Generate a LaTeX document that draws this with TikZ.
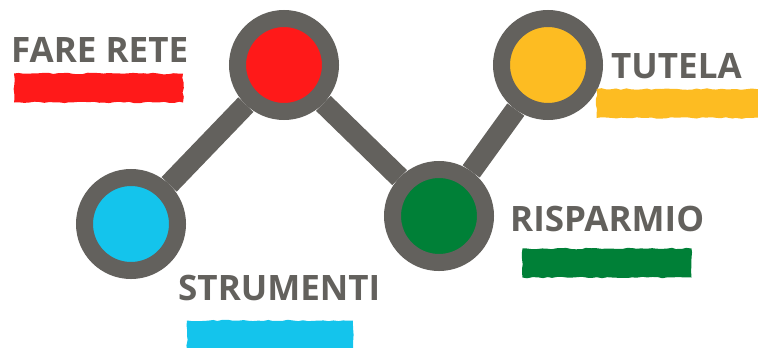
\documentclass[tikz,border=0pt]{standalone}
\usepackage{fontspec}
\setsansfont{Open Sans}
\usepackage{tikz}
\usetikzlibrary{decorations.pathmorphing}
\usepackage{xcolor}
\definecolor{netgrey}{RGB}{99,97,93}
\definecolor{netred}{RGB}{255,25,25}
\definecolor{netyellow}{RGB}{253,188,34}
\definecolor{netblue}{RGB}{20,196,236}
\definecolor{netgreen}{RGB}{0,128,55}
\tikzstyle{station} = [circle, minimum size=93pt, inner sep=0pt, line width=17pt, draw=netgrey]
\tikzstyle{link} = [line width=21pt, color=netgrey]
\tikzstyle{heading} = [font=\sffamily\bfseries\fontsize{35}{35}\selectfont, text=netgrey, inner sep=0pt, anchor=base west]
\tikzstyle{brush} = [rectangle, inner sep=0pt, minimum height=29pt, decorate, decoration={random steps, segment length=5pt, amplitude=0.8pt}]

\begin{document}
\begin{tikzpicture}[x=1pt, y=-1pt]
\pgfmathsetseed{7}
\useasboundingbox (0,0) rectangle (758,348);
% Stations
\node (strumenti) [station, fill=netblue] at (131,224) {};
\node (farerete) [station, fill=netred] at (284,65) {};
\node (risparmio) [station, fill=netgreen] at (439,216) {};
\node (tutela) [station, fill=netyellow] at (548,65) {};

% Links
\draw[link] (strumenti) -- (farerete);
\draw[link] (farerete) -- (risparmio);
\draw[link] (risparmio) -- (tutela);

% Labels
\node (fareretetext) [heading] at (11,62) {FARE RETE};
\node (tutelatext) [heading] at (611,78) {TUTELA};
\node (strumentitext) [heading] at (178,300) {STRUMENTI};
\node (risparmiotext) [heading] at (510,231) {RISPARMIO};

% Brush strokes
\node (fareretebrush) [brush, fill=netred, minimum width=169pt] at (98.5,88) {};
\node (tutelabrush) [brush, fill=netyellow, minimum width=165pt] at (679,103.5) {};
\node (strumentibrush) [brush, fill=netblue, minimum width=166pt] at (270,335) {};
\node (risparmiobrush) [brush, fill=netgreen, minimum width=169pt] at (607,263) {};
\end{tikzpicture}
\end{document}
